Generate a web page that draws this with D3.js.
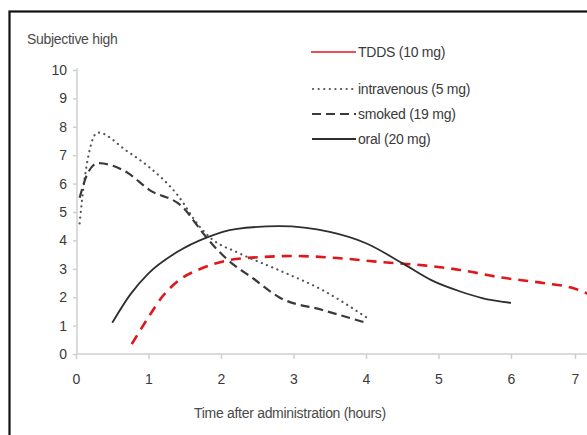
<!DOCTYPE html>
<html>
<head>
<meta charset="utf-8">
<script src="https://cdn.jsdelivr.net/npm/d3@7"></script>
<style>
  body { margin: 0; background: #fff; }
  svg { display: block; font-family: "Liberation Sans", Arial, sans-serif; }
  .tick text { fill: #3a3a3a; font-size: 14px; }
</style>
</head>
<body>
<svg id="chart" width="587" height="435"></svg>
<script>
// time (hours), subjective high
var tdds = [[0.77,0.35],[1.0,1.3],[1.2,2.05],[1.45,2.65],[1.72,3.0],[2.1,3.3],[2.6,3.42],[3.0,3.45],[3.6,3.38],[4.2,3.24],[4.8,3.12],[5.3,2.96],[5.85,2.7],[6.5,2.5],[7.0,2.3],[7.2,2.12]];
var intravenous = [[0.05,4.6],[0.12,6.2],[0.3,7.8],[0.7,7.15],[1.0,6.6],[1.4,5.6],[1.7,4.5],[1.85,4.1],[2.25,3.55],[2.8,2.95],[3.4,2.25],[4.0,1.3]];
var smoked = [[0.05,5.5],[0.15,6.3],[0.3,6.72],[0.7,6.4],[1.0,5.8],[1.5,5.1],[1.65,4.6],[1.8,4.1],[2.1,3.3],[2.45,2.65],[2.8,2.0],[3.4,1.55],[4.0,1.1]];
var oral = [[0.5,1.1],[0.75,2.1],[1.0,2.84],[1.4,3.6],[1.8,4.1],[2.2,4.4],[2.8,4.5],[3.5,4.3],[4.0,3.9],[4.5,3.2],[4.9,2.6],[5.3,2.2],[5.6,1.97],[6.0,1.8]];

var xTicks = [0,1,2,3,4,5,6,7];
var yTicks = [0,1,2,3,4,5,6,7,8,9,10];
var legendLabels = ["TDDS (10 mg)", "intravenous (5 mg)", "smoked (19 mg)", "oral (20 mg)"];

var svg = d3.select("#chart");

// frame round the figure (only top and left edges show)
svg.append("rect")
    .attr("x", 9.5).attr("y", 11.5)
    .attr("width", 600).attr("height", 460)
    .attr("fill", "none")
    .attr("stroke", "#111")
    .attr("stroke-width", 2.2);

// the last hour is drawn narrower in the original
var x = d3.scaleLinear().domain([0, 6, 7]).range([76, 511, 575]);
var y = d3.scaleLinear().domain([0, 10]).range([354, 70]);

var xAxis = svg.append("g")
    .attr("transform", "translate(0,354)")
    .call(d3.axisBottom(x).tickValues(xTicks).tickSize(5).tickPadding(15).tickFormat(d3.format("d")));
xAxis.select(".domain").attr("d", "M76,0H587");

var yAxis = svg.append("g")
    .attr("transform", "translate(77,0)")
    .call(d3.axisLeft(y).tickValues(yTicks).tickSize(4).tickPadding(6));
yAxis.select(".domain").attr("d", "M0,354V68");

svg.selectAll(".domain, .tick line").attr("stroke", "#cfcfcf").attr("stroke-width", 1.5);

svg.append("text")
    .attr("x", 27).attr("y", 44)
    .attr("fill", "#4a4a4a").style("font-size", "14px")
    .attr("letter-spacing", "-0.3")
    .text("Subjective high");

svg.append("text")
    .attr("x", 290).attr("y", 418)
    .attr("text-anchor", "middle")
    .attr("fill", "#4a4a4a").style("font-size", "14px")
    .attr("letter-spacing", "-0.3")
    .text("Time after administration (hours)");

var line = d3.line()
    .x(function(d) { return x(d[0]); })
    .y(function(d) { return y(d[1]); })
    .curve(d3.curveMonotoneX);

var clip = svg.append("clipPath").attr("id", "plot")
  .append("rect").attr("x", 78).attr("y", 60).attr("width", 520).attr("height", 300);

var series = [
  {data: tdds, color: "#e0161b", width: 2.6, dash: "10,7", cap: "butt"},
  {data: intravenous, color: "#555", width: 2.2, dash: "0.1,5.5", cap: "round"},
  {data: smoked, color: "#3a3a3a", width: 2.2, dash: "9,5", cap: "butt"},
  {data: oral, color: "#2e2e2e", width: 1.8, dash: null, cap: "butt"}
];

svg.append("g").attr("clip-path", "url(#plot)")
  .selectAll("path")
  .data(series)
  .enter().append("path")
    .attr("d", function(d) { return line(d.data); })
    .attr("fill", "none")
    .attr("stroke", function(d) { return d.color; })
    .attr("stroke-width", function(d) { return d.width; })
    .attr("stroke-dasharray", function(d) { return d.dash; })
    .attr("stroke-linecap", function(d) { return d.cap; });

// legend
var legendY = [52, 89, 114, 139];
var legendLines = [
  {x1: 311, color: "#e0161b", width: 1.6, dash: null, cap: "butt"},
  {x1: 313, color: "#555", width: 2.2, dash: "0.1,5.5", cap: "round"},
  {x1: 312, color: "#3a3a3a", width: 2.2, dash: "9,5", cap: "butt"},
  {x1: 312, color: "#2e2e2e", width: 1.8, dash: null, cap: "butt"}
];

var legend = svg.append("g").selectAll("g")
  .data(legendLabels)
  .enter().append("g")
    .attr("transform", function(d, i) { return "translate(0," + legendY[i] + ")"; });

legend.append("line")
    .attr("x1", function(d, i) { return legendLines[i].x1; })
    .attr("x2", 356)
    .attr("stroke", function(d, i) { return legendLines[i].color; })
    .attr("stroke-width", function(d, i) { return legendLines[i].width; })
    .attr("stroke-dasharray", function(d, i) { return legendLines[i].dash; })
    .attr("stroke-linecap", function(d, i) { return legendLines[i].cap; });

legend.append("text")
    .attr("x", 358).attr("dy", "0.35em")
    .attr("fill", "#3a3a3a").style("font-size", "14px")
    .attr("letter-spacing", "-0.25")
    .text(function(d) { return d; });
</script>
</body>
</html>
